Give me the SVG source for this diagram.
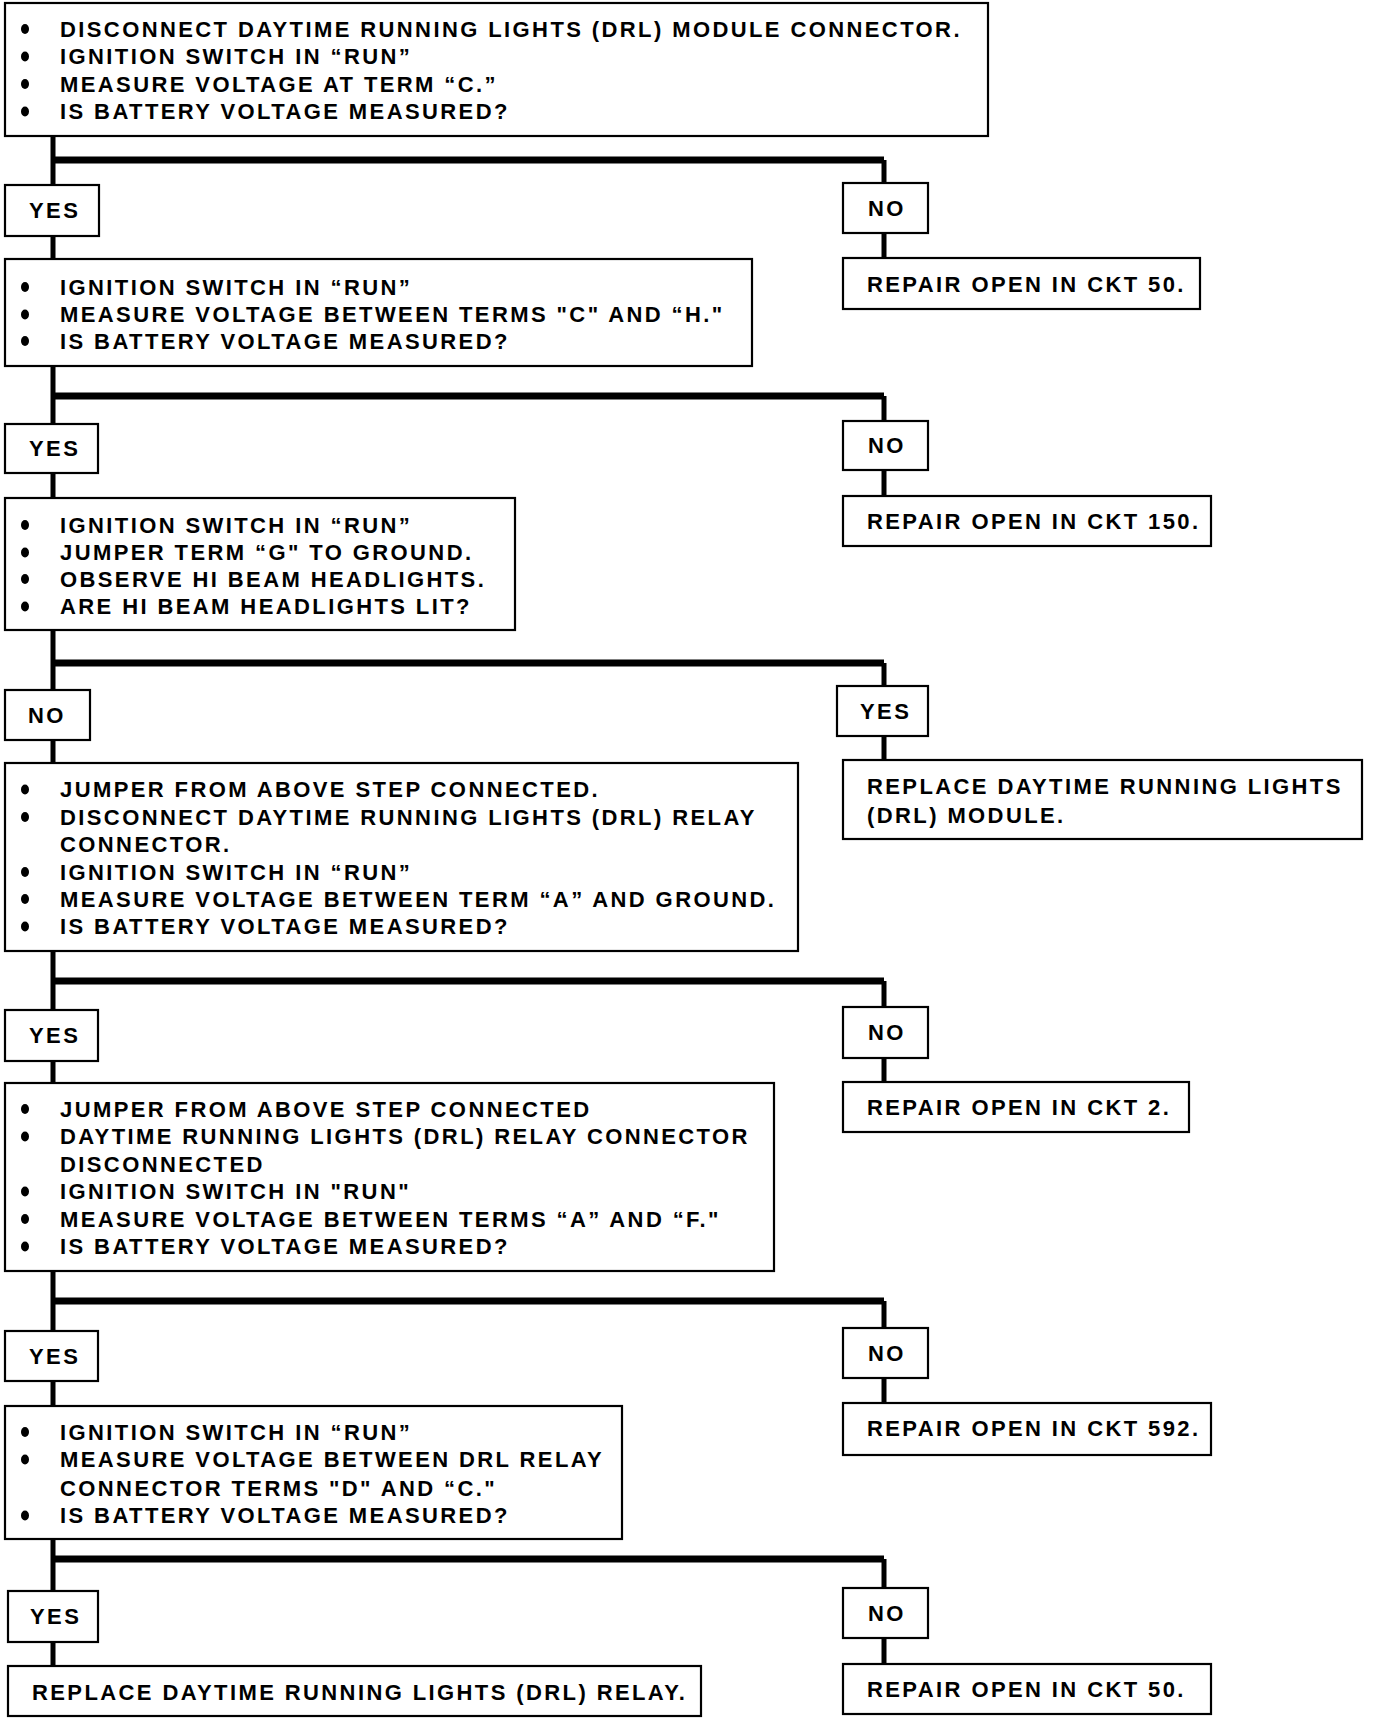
<svg xmlns="http://www.w3.org/2000/svg" width="1376" height="1722" viewBox="0 0 1376 1722">
<style>
.box{fill:#fff;stroke:#000;stroke-width:2.2}
.t{font-family:"Liberation Sans",Arial,sans-serif;font-weight:bold;font-size:22px;letter-spacing:2.4px;fill:#000}
.v{stroke:#000;stroke-width:5;fill:none}
.h{stroke:#000;stroke-width:7;fill:none}
.b{fill:#000}
</style>
<rect width="1376" height="1722" fill="#fff"/>
<g id="connectors">
<path class="v" d="M53,136V185M53,236V259"/>
<path class="h" d="M53,160H884"/>
<path class="v" d="M884,160V183M884,233V258"/>
<path class="v" d="M53,366V424M53,473V498"/>
<path class="h" d="M53,396H884"/>
<path class="v" d="M884,396V421M884,470V496"/>
<path class="v" d="M53,630V690M53,740V763"/>
<path class="h" d="M53,663H884"/>
<path class="v" d="M884,663V686M884,736V760"/>
<path class="v" d="M53,951V1010M53,1061V1083"/>
<path class="h" d="M53,981H884"/>
<path class="v" d="M884,981V1007M884,1058V1082"/>
<path class="v" d="M53,1271V1331M53,1381V1406"/>
<path class="h" d="M53,1301H884"/>
<path class="v" d="M884,1301V1328M884,1378V1403"/>
<path class="v" d="M53,1539V1591M53,1642V1666"/>
<path class="h" d="M53,1559H884"/>
<path class="v" d="M884,1559V1588M884,1638V1664"/>
</g>
<g id="step1">
<rect class="box" x="5" y="3" width="983" height="133"/>
<ellipse class="b" cx="25" cy="29" rx="4" ry="5"/><text class="t" x="60" y="36.5">DISCONNECT DAYTIME RUNNING LIGHTS (DRL) MODULE CONNECTOR.</text>
<ellipse class="b" cx="25" cy="56.5" rx="4" ry="5"/><text class="t" x="60" y="64">IGNITION SWITCH IN “RUN”</text>
<ellipse class="b" cx="25" cy="84" rx="4" ry="5"/><text class="t" x="60" y="91.5">MEASURE VOLTAGE AT TERM “C.”</text>
<ellipse class="b" cx="25" cy="111.5" rx="4" ry="5"/><text class="t" x="60" y="119">IS BATTERY VOLTAGE MEASURED?</text>
</g>
<g id="yes1"><rect class="box" x="5" y="185" width="94" height="51"/><text class="t" x="29" y="218">YES</text></g>
<g id="no1"><rect class="box" x="843" y="183" width="85" height="50"/><text class="t" x="868" y="216">NO</text></g>
<g id="repair50a"><rect class="box" x="843" y="258" width="357" height="51"/><text class="t" x="867" y="292">REPAIR OPEN IN CKT 50.</text></g>
<g id="step2">
<rect class="box" x="5" y="259" width="747" height="107"/>
<ellipse class="b" cx="25" cy="287" rx="4" ry="5"/><text class="t" x="60" y="294.5">IGNITION SWITCH IN “RUN”</text>
<ellipse class="b" cx="25" cy="314.5" rx="4" ry="5"/><text class="t" x="60" y="322">MEASURE VOLTAGE BETWEEN TERMS "C" AND “H."</text>
<ellipse class="b" cx="25" cy="341" rx="4" ry="5"/><text class="t" x="60" y="348.5">IS BATTERY VOLTAGE MEASURED?</text>
</g>
<g id="yes2"><rect class="box" x="5" y="424" width="93" height="49"/><text class="t" x="29" y="456">YES</text></g>
<g id="no2"><rect class="box" x="843" y="421" width="85" height="49"/><text class="t" x="868" y="453">NO</text></g>
<g id="repair150"><rect class="box" x="843" y="496" width="368" height="50"/><text class="t" x="867" y="529">REPAIR OPEN IN CKT 150.</text></g>
<g id="step3">
<rect class="box" x="5" y="498" width="510" height="132"/>
<ellipse class="b" cx="25" cy="525" rx="4" ry="5"/><text class="t" x="60" y="532.5">IGNITION SWITCH IN “RUN”</text>
<ellipse class="b" cx="25" cy="552.5" rx="4" ry="5"/><text class="t" x="60" y="560">JUMPER TERM “G" TO GROUND.</text>
<ellipse class="b" cx="25" cy="579" rx="4" ry="5"/><text class="t" x="60" y="586.5">OBSERVE HI BEAM HEADLIGHTS.</text>
<ellipse class="b" cx="25" cy="606.5" rx="4" ry="5"/><text class="t" x="60" y="614">ARE HI BEAM HEADLIGHTS LIT?</text>
</g>
<g id="no3"><rect class="box" x="5" y="690" width="85" height="50"/><text class="t" x="28" y="723">NO</text></g>
<g id="yes3"><rect class="box" x="837" y="686" width="91" height="50"/><text class="t" x="860" y="719">YES</text></g>
<g id="replaceModule"><rect class="box" x="843" y="760" width="519" height="79"/>
<text class="t" x="867" y="793.5">REPLACE DAYTIME RUNNING LIGHTS</text>
<text class="t" x="867" y="822.5">(DRL) MODULE.</text></g>
<g id="step4">
<rect class="box" x="5" y="763" width="793" height="188"/>
<ellipse class="b" cx="25" cy="789.5" rx="4" ry="5"/><text class="t" x="60" y="797">JUMPER FROM ABOVE STEP CONNECTED.</text>
<ellipse class="b" cx="25" cy="817" rx="4" ry="5"/><text class="t" x="60" y="824.5">DISCONNECT DAYTIME RUNNING LIGHTS (DRL) RELAY</text>
<text class="t" x="60" y="852">CONNECTOR.</text>
<ellipse class="b" cx="25" cy="872" rx="4" ry="5"/><text class="t" x="60" y="879.5">IGNITION SWITCH IN “RUN”</text>
<ellipse class="b" cx="25" cy="899" rx="4" ry="5"/><text class="t" x="60" y="906.5">MEASURE VOLTAGE BETWEEN TERM “A” AND GROUND.</text>
<ellipse class="b" cx="25" cy="926.5" rx="4" ry="5"/><text class="t" x="60" y="934">IS BATTERY VOLTAGE MEASURED?</text>
</g>
<g id="yes4"><rect class="box" x="5" y="1010" width="93" height="51"/><text class="t" x="29" y="1043">YES</text></g>
<g id="no4"><rect class="box" x="843" y="1007" width="85" height="51"/><text class="t" x="868" y="1040">NO</text></g>
<g id="repair2"><rect class="box" x="843" y="1082" width="346" height="50"/><text class="t" x="867" y="1114.5">REPAIR OPEN IN CKT 2.</text></g>
<g id="step5">
<rect class="box" x="5" y="1083" width="769" height="188"/>
<ellipse class="b" cx="25" cy="1109" rx="4" ry="5"/><text class="t" x="60" y="1116.5">JUMPER FROM ABOVE STEP CONNECTED</text>
<ellipse class="b" cx="25" cy="1136.5" rx="4" ry="5"/><text class="t" x="60" y="1144">DAYTIME RUNNING LIGHTS (DRL) RELAY CONNECTOR</text>
<text class="t" x="60" y="1171.5">DISCONNECTED</text>
<ellipse class="b" cx="25" cy="1191.5" rx="4" ry="5"/><text class="t" x="60" y="1199">IGNITION SWITCH IN "RUN"</text>
<ellipse class="b" cx="25" cy="1219" rx="4" ry="5"/><text class="t" x="60" y="1226.5">MEASURE VOLTAGE BETWEEN TERMS “A” AND “F."</text>
<ellipse class="b" cx="25" cy="1246.5" rx="4" ry="5"/><text class="t" x="60" y="1254">IS BATTERY VOLTAGE MEASURED?</text>
</g>
<g id="yes5"><rect class="box" x="5" y="1331" width="93" height="50"/><text class="t" x="29" y="1364">YES</text></g>
<g id="no5"><rect class="box" x="843" y="1328" width="85" height="50"/><text class="t" x="868" y="1361">NO</text></g>
<g id="repair592"><rect class="box" x="843" y="1403" width="368" height="52"/><text class="t" x="867" y="1436">REPAIR OPEN IN CKT 592.</text></g>
<g id="step6">
<rect class="box" x="5" y="1406" width="617" height="133"/>
<ellipse class="b" cx="25" cy="1432" rx="4" ry="5"/><text class="t" x="60" y="1439.5">IGNITION SWITCH IN “RUN”</text>
<ellipse class="b" cx="25" cy="1459.5" rx="4" ry="5"/><text class="t" x="60" y="1467">MEASURE VOLTAGE BETWEEN DRL RELAY</text>
<text class="t" x="60" y="1495.5">CONNECTOR TERMS "D" AND “C."</text>
<ellipse class="b" cx="25" cy="1515.5" rx="4" ry="5"/><text class="t" x="60" y="1523">IS BATTERY VOLTAGE MEASURED?</text>
</g>
<g id="yes6"><rect class="box" x="8" y="1591" width="90" height="51"/><text class="t" x="30" y="1624">YES</text></g>
<g id="no6"><rect class="box" x="843" y="1588" width="85" height="50"/><text class="t" x="868" y="1621">NO</text></g>
<g id="replaceRelay"><rect class="box" x="8" y="1666" width="693" height="50"/><text class="t" x="32" y="1699.5">REPLACE DAYTIME RUNNING LIGHTS (DRL) RELAY.</text></g>
<g id="repair50b"><rect class="box" x="843" y="1664" width="368" height="50"/><text class="t" x="867" y="1696.5">REPAIR OPEN IN CKT 50.</text></g>
</svg>
